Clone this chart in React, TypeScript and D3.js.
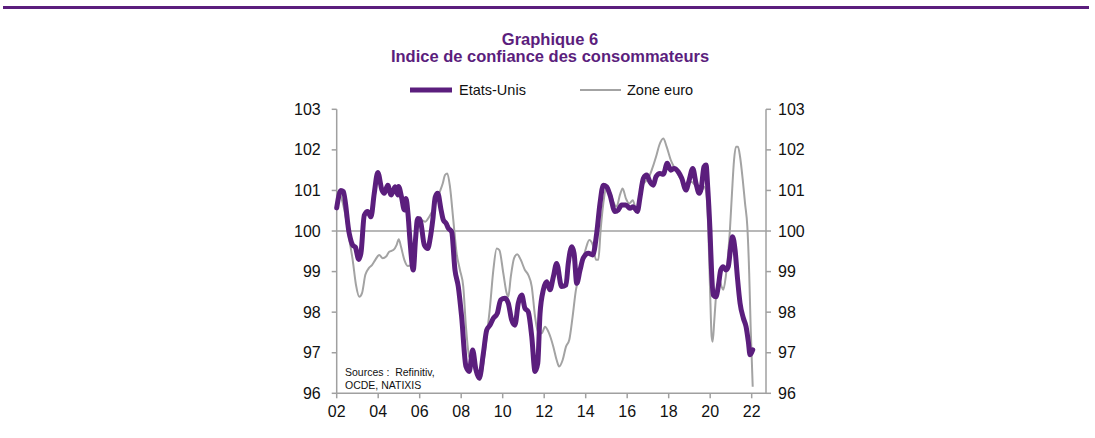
import React from "react";
import * as d3 from "d3";

// ---- data (year fraction, index value) ----
const usSeries: [number, number][] = [
  [2002.0, 100.57], [2002.2, 101.0], [2002.32, 100.97], [2002.6, 99.95], [2002.77, 99.65],
  [2002.9, 99.6], [2003.06, 99.3], [2003.17, 99.46], [2003.33, 100.39], [2003.49, 100.48],
  [2003.65, 100.35], [2003.81, 100.93], [2003.98, 101.44], [2004.18, 101.01], [2004.29, 100.93],
  [2004.46, 101.13], [2004.62, 100.89], [2004.73, 101.0], [2004.82, 101.09], [2004.94, 100.89],
  [2004.98, 101.1], [2005.12, 100.85], [2005.26, 100.52], [2005.34, 100.8], [2005.44, 100.4],
  [2005.53, 99.78], [2005.69, 99.04], [2005.8, 99.8], [2005.9, 100.31], [2005.99, 100.3],
  [2006.06, 100.19], [2006.22, 99.66], [2006.39, 99.57], [2006.5, 99.8], [2006.63, 100.27],
  [2006.75, 100.84], [2006.87, 100.93], [2007.03, 100.52], [2007.14, 100.27], [2007.27, 100.19],
  [2007.38, 100.07], [2007.54, 99.98], [2007.7, 99.04], [2007.86, 98.63], [2008.02, 97.89],
  [2008.23, 96.66], [2008.39, 96.54], [2008.55, 97.07], [2008.71, 96.58], [2008.87, 96.37],
  [2009.07, 96.99], [2009.23, 97.56], [2009.39, 97.68], [2009.55, 97.85], [2009.74, 97.97],
  [2009.9, 98.3], [2010.11, 98.34], [2010.27, 98.22], [2010.43, 97.81], [2010.59, 97.68],
  [2010.75, 98.22], [2010.92, 98.42], [2011.07, 98.1], [2011.23, 98.01], [2011.4, 97.4],
  [2011.56, 96.54], [2011.69, 96.74], [2011.8, 97.97], [2011.96, 98.55], [2012.12, 98.75],
  [2012.28, 98.55], [2012.44, 98.87], [2012.6, 99.2], [2012.84, 98.63], [2013.05, 98.67],
  [2013.16, 99.2], [2013.33, 99.61], [2013.44, 99.45], [2013.57, 98.71], [2013.73, 99.04],
  [2013.88, 99.33], [2014.13, 99.45], [2014.34, 99.41], [2014.53, 99.94], [2014.69, 100.68],
  [2014.85, 101.13], [2015.01, 101.09], [2015.17, 100.89], [2015.41, 100.48], [2015.57, 100.52],
  [2015.73, 100.64], [2015.94, 100.64], [2016.13, 100.56], [2016.29, 100.6], [2016.49, 100.48],
  [2016.62, 100.84], [2016.78, 101.3], [2016.94, 101.38], [2017.1, 101.21], [2017.26, 101.13],
  [2017.39, 101.34], [2017.58, 101.42], [2017.74, 101.4], [2017.93, 101.67], [2018.1, 101.5],
  [2018.26, 101.54], [2018.46, 101.46], [2018.63, 101.3], [2018.83, 101.01], [2018.99, 101.26],
  [2019.16, 101.54], [2019.32, 101.17], [2019.47, 100.93], [2019.57, 101.05], [2019.7, 101.58],
  [2019.8, 101.63], [2019.88, 101.09], [2019.99, 100.02], [2020.07, 98.96], [2020.15, 98.42],
  [2020.28, 98.38], [2020.39, 98.63], [2020.51, 99.04], [2020.63, 99.12], [2020.76, 99.04],
  [2020.87, 99.12], [2020.99, 99.61], [2021.08, 99.86], [2021.2, 99.53], [2021.31, 98.87],
  [2021.44, 98.22], [2021.6, 97.85], [2021.73, 97.64], [2021.84, 97.27], [2021.92, 96.95],
  [2022.05, 97.07],
];

const euroSeries: [number, number][] = [
  [2002.0, 100.97], [2002.13, 100.93], [2002.37, 100.52], [2002.61, 99.78], [2002.77, 99.29],
  [2002.93, 98.67], [2003.09, 98.38], [2003.22, 98.47], [2003.38, 98.92], [2003.54, 99.08],
  [2003.7, 99.16], [2003.86, 99.29], [2004.05, 99.41], [2004.22, 99.33], [2004.38, 99.37],
  [2004.53, 99.49], [2004.73, 99.53], [2004.89, 99.66], [2004.99, 99.8], [2005.1, 99.61],
  [2005.26, 99.29], [2005.42, 99.14], [2005.58, 99.16], [2005.74, 99.53], [2005.9, 100.07],
  [2006.06, 100.27], [2006.27, 100.23], [2006.46, 100.35], [2006.7, 100.6], [2006.94, 100.93],
  [2007.11, 101.17], [2007.22, 101.38], [2007.33, 101.42], [2007.46, 101.09], [2007.62, 100.27],
  [2007.78, 99.45], [2007.94, 99.04], [2008.1, 98.63], [2008.23, 97.64], [2008.39, 96.9],
  [2008.55, 96.82], [2008.71, 96.5], [2008.91, 96.33], [2009.07, 96.74], [2009.23, 97.4],
  [2009.39, 98.14], [2009.55, 99.04], [2009.71, 99.57], [2009.84, 99.53], [2010.03, 98.96],
  [2010.19, 98.47], [2010.27, 98.38], [2010.39, 98.87], [2010.55, 99.33], [2010.7, 99.43],
  [2010.87, 99.29], [2011.07, 99.04], [2011.23, 98.92], [2011.4, 98.63], [2011.56, 97.89],
  [2011.72, 97.48], [2011.88, 97.48], [2012.04, 97.64], [2012.2, 97.52], [2012.44, 97.15],
  [2012.6, 96.82], [2012.72, 96.66], [2012.89, 96.82], [2013.05, 97.15], [2013.21, 97.32],
  [2013.37, 97.89], [2013.53, 98.55], [2013.69, 98.87], [2013.86, 99.29], [2014.01, 99.57],
  [2014.17, 99.78], [2014.34, 99.66], [2014.5, 99.29], [2014.61, 99.29], [2014.72, 100.02],
  [2014.85, 100.68], [2015.01, 101.09], [2015.17, 100.97], [2015.33, 100.72], [2015.49, 100.6],
  [2015.65, 100.89], [2015.78, 101.05], [2015.94, 100.8], [2016.1, 100.68], [2016.27, 100.76],
  [2016.42, 100.56], [2016.58, 100.64], [2016.71, 101.09], [2016.86, 101.21], [2017.02, 101.3],
  [2017.18, 101.5], [2017.39, 101.83], [2017.55, 102.12], [2017.74, 102.28], [2017.9, 102.08],
  [2018.1, 101.75], [2018.3, 101.54], [2018.51, 101.34], [2018.67, 101.21], [2018.79, 101.01],
  [2018.94, 101.21], [2019.11, 101.21], [2019.27, 101.13], [2019.43, 101.05], [2019.59, 101.01],
  [2019.72, 101.09], [2019.83, 100.84], [2019.91, 100.02], [2019.99, 98.63], [2020.07, 97.4],
  [2020.12, 97.27], [2020.2, 97.81], [2020.31, 98.55], [2020.44, 98.79], [2020.55, 98.63],
  [2020.63, 98.55], [2020.75, 98.87], [2020.84, 99.29], [2020.95, 100.02], [2021.05, 100.93],
  [2021.15, 101.75], [2021.24, 102.08], [2021.34, 102.08], [2021.44, 101.83], [2021.57, 101.26],
  [2021.68, 100.68], [2021.79, 100.11], [2021.88, 98.96], [2021.95, 97.64], [2022.05, 96.16],
];

const yTicks = [96, 97, 98, 99, 100, 101, 102, 103];
const xTickYears = [2002, 2004, 2006, 2008, 2010, 2012, 2014, 2016, 2018, 2020, 2022];
const titleLines = ["Graphique 6", "Indice de confiance des consommateurs"];
const legendLabels = ["Etats-Unis", "Zone euro"];
const sourceLines = ["Sources :\u00a0\u00a0Refinitiv,", "OCDE, NATIXIS"];

const PURPLE = "#5b1e7d";
const GREY = "#a3a3a3";
const AXIS = "#a0a0a0";
const FONT = "'Liberation Sans', Arial, Helvetica, sans-serif";

export default function App() {
  const W = 1095, H = 438;
  const x = d3.scaleLinear().domain([2002, 2022.69]).range([336.7, 766]);
  const y = d3.scaleLinear().domain([96, 103]).range([393.3, 109.3]);
  const line = d3
    .line<[number, number]>()
    .x((d) => x(d[0]))
    .y((d) => y(d[1]))
    .curve(d3.curveMonotoneX);

  const x0 = x(2002), x1 = x.range()[1];
  const yTop = y(103), yBot = y(96);

  return (
    <svg
      width={W}
      height={H}
      style={{ position: "absolute", left: 0, top: 0, background: "#fff" }}
      fontFamily={FONT}
    >
      <rect x={0} y={0} width={W} height={H} fill="#fff" />
      {/* top rule */}
      <line x1={3} x2={1089} y1={7.5} y2={7.5} stroke={PURPLE} strokeWidth={3} />
      {/* title */}
      <text x={550} y={44.5} textAnchor="middle" fontSize={16.5} fontWeight="bold" fill={PURPLE}>
        {titleLines[0]}
      </text>
      <text x={550} y={62} textAnchor="middle" fontSize={16.5} fontWeight="bold" fill={PURPLE}>
        {titleLines[1]}
      </text>
      {/* legend */}
      <line x1={410} x2={452} y1={90} y2={90} stroke={PURPLE} strokeWidth={5} />
      <text x={459} y={95} fontSize={14.5} fill="#111">{legendLabels[0]}</text>
      <line x1={580} x2={621} y1={90} y2={90} stroke={GREY} strokeWidth={2} />
      <text x={627} y={95} fontSize={14.5} fill="#111">{legendLabels[1]}</text>

      {/* axes */}
      <line x1={x0} x2={x0} y1={yTop} y2={yBot} stroke={AXIS} strokeWidth={1.5} />
      <line x1={x1} x2={x1} y1={yTop} y2={yBot} stroke={AXIS} strokeWidth={1.5} />
      <line x1={x0} x2={x1} y1={yBot} y2={yBot} stroke={AXIS} strokeWidth={1.5} />
      {yTicks.map((t) => (
        <g key={"yt" + t}>
          <line x1={x0 - 5} x2={x0} y1={y(t)} y2={y(t)} stroke={AXIS} strokeWidth={1.5} />
          <line x1={x1} x2={x1 + 5} y1={y(t)} y2={y(t)} stroke={AXIS} strokeWidth={1.5} />
          <text x={x0 - 16} y={y(t)} dy="0.35em" textAnchor="end" fontSize={16} fill="#111">
            {t}
          </text>
          <text x={x1 + 12} y={y(t)} dy="0.35em" textAnchor="start" fontSize={16} fill="#111">
            {t}
          </text>
        </g>
      ))}
      {xTickYears.map((t) => (
        <g key={"xt" + t}>
          <line x1={x(t)} x2={x(t)} y1={yBot} y2={yBot + 5} stroke={AXIS} strokeWidth={1.5} />
          <text x={x(t)} y={417} textAnchor="middle" fontSize={16} fill="#111">
            {String(t % 100).padStart(2, "0")}
          </text>
        </g>
      ))}
      {/* 100 line */}
      <line x1={x0} x2={x1} y1={y(100)} y2={y(100)} stroke={AXIS} strokeWidth={1.5} />

      {/* series */}
      <path d={line(euroSeries) || ""} fill="none" stroke={GREY} strokeWidth={2} strokeLinejoin="round" />
      <path d={line(usSeries) || ""} fill="none" stroke={PURPLE} strokeWidth={5} strokeLinejoin="round" strokeLinecap="round" />

      {/* sources */}
      <text x={345} y={376} fontSize={10.5} fill="#111">{sourceLines[0]}</text>
      <text x={345} y={388.5} fontSize={10.5} fill="#111">{sourceLines[1]}</text>
    </svg>
  );
}
